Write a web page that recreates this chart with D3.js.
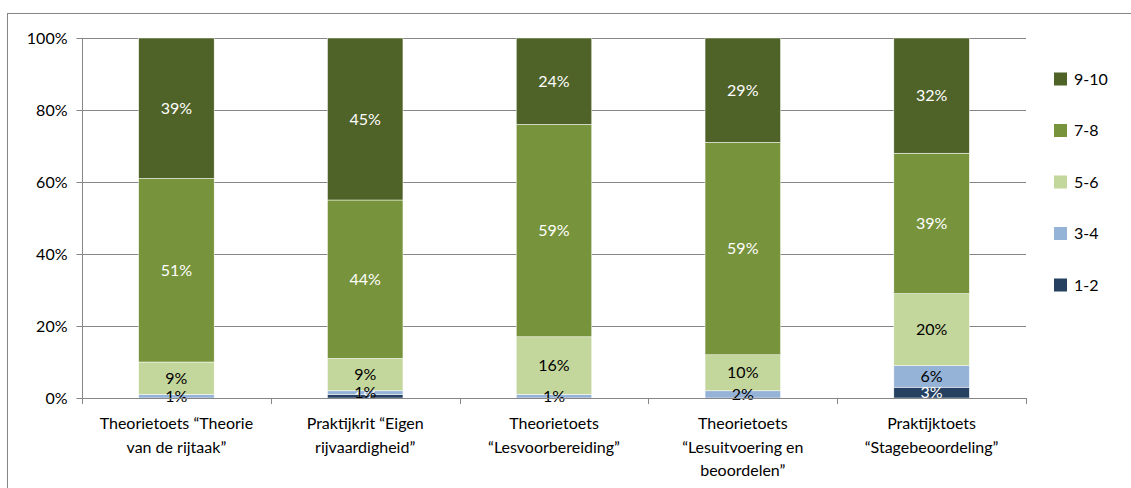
<!DOCTYPE html>
<html><head><meta charset="utf-8">
<script src="https://cdn.jsdelivr.net/npm/d3@7"></script>
<style>
html,body{margin:0;padding:0;background:#fff;overflow:hidden}
text{font-family:Lato,"Liberation Sans",sans-serif}
</style></head>
<body>
<svg id="chart" width="1131" height="488"></svg>
<script>
const categories = [
  ["Theorietoets \u201cTheorie", "van de rijtaak\u201d"],
  ["Praktijkrit \u201cEigen", "rijvaardigheid\u201d"],
  ["Theorietoets", "\u201cLesvoorbereiding\u201d"],
  ["Theorietoets", "\u201cLesuitvoering en", "beoordelen\u201d"],
  ["Praktijktoets", "\u201cStagebeoordeling\u201d"]
];
const seriesNames = ["1-2", "3-4", "5-6", "7-8", "9-10"];
const s12  = [0, 1, 0, 0, 3];
const s34  = [1, 1, 1, 2, 6];
const s56  = [9, 9, 16, 10, 20];
const s78  = [51, 44, 59, 59, 39];
const s910 = [39, 45, 24, 29, 32];
const yTicks = [0, 0.2, 0.4, 0.6, 0.8, 1.0];
const colors = ["#254061", "#95B3D7", "#C3D69B", "#77933C", "#4F6228"];
const labelColors = ["#fff", "#000", "#000", "#fff", "#fff"];

const seriesValues = [s12, s34, s56, s78, s910];
const rows = categories.map((c, i) => {
  const r = {cat: i};
  seriesNames.forEach((k, j) => r[k] = seriesValues[j][i] / 100);
  return r;
});

const svg = d3.select("#chart");
const L = 82, R = 1026, T = 38, B = 398;

// frame
svg.append("rect").attr("x", 7.5).attr("y", 13.5).attr("width", 1200).attr("height", 600)
  .attr("fill", "none").attr("stroke", "#868686").attr("stroke-width", 1);

const x = d3.scaleBand().domain(d3.range(categories.length)).range([L, R])
  .paddingInner(0.6).paddingOuter(0.3);
const y = d3.scaleLinear().domain([0, 1]).range([B, T]);

// gridlines
svg.append("g").selectAll("line").data(yTicks.filter(d => d > 0)).join("line")
  .attr("x1", L).attr("x2", R).attr("y1", d => Math.round(y(d)) + 0.5).attr("y2", d => Math.round(y(d)) + 0.5)
  .attr("stroke", "#868686").attr("stroke-width", 1);

const stack = d3.stack().keys(seriesNames)(rows);

const g = svg.append("g");
stack.forEach((layer, j) => {
  g.append("g").selectAll("rect").data(layer).join("rect")
    .attr("x", d => x(d.data.cat))
    .attr("width", x.bandwidth())
    .attr("y", d => y(d[1]))
    .attr("height", d => y(d[0]) - y(d[1]))
    .attr("fill", colors[j])
    .attr("stroke", "#fff").attr("stroke-width", 0.5);
});

// y axis
const yAxis = d3.axisLeft(y).tickValues(yTicks).tickFormat(d3.format(".0%")).tickSize(6).tickPadding(9);
const ya = svg.append("g").attr("transform", `translate(${L + 0.5},0)`).call(yAxis);
ya.select(".domain").attr("stroke", "#868686").attr("d", `M-0,${T}V${B}`);
ya.selectAll(".tick line").attr("stroke", "#868686");
ya.selectAll(".tick").attr("transform", d => `translate(0,${Math.round(y(d)) + 0.5})`);
ya.selectAll("text").attr("font-size", 16).attr("fill", "#000").attr("font-family", "Lato");

// x axis line and ticks
const step = x.step();
const bounds = d3.range(categories.length + 1).map(i => L + i * step);
svg.append("line").attr("x1", L).attr("x2", R).attr("y1", B + 0.5).attr("y2", B + 0.5)
  .attr("stroke", "#868686");
svg.append("g").selectAll("line").data(bounds).join("line")
  .attr("x1", d => Math.round(d) + 0.5).attr("x2", d => Math.round(d) + 0.5)
  .attr("y1", B).attr("y2", B + 6).attr("stroke", "#868686");

// segment labels
stack.forEach((layer, j) => {
  g.append("g").selectAll("text").data(layer.filter(d => d[1] - d[0] > 0)).join("text")
    .attr("x", d => x(d.data.cat) + x.bandwidth() / 2)
    .attr("y", d => (y(d[0]) + y(d[1])) / 2)
    .attr("dy", "0.35em")
    .attr("text-anchor", "middle")
    .attr("font-size", 16)
    .attr("fill", labelColors[j])
    .text(d => d3.format(".0%")(d[1] - d[0]));
});

// category labels
const cl = svg.append("g");
categories.forEach((lines, i) => {
  const t = cl.append("text").attr("text-anchor", "middle").attr("font-size", 16).attr("fill", "#000");
  lines.forEach((ln, k) => {
    t.append("tspan").attr("x", x(i) + x.bandwidth() / 2).attr("y", 429 + k * 23.5).text(ln);
  });
});

// legend
const leg = svg.append("g");
seriesNames.slice().reverse().forEach((k, i) => {
  const j = seriesNames.length - 1 - i;
  const cy = 79 + i * 51.5;
  leg.append("rect").attr("x", 1054).attr("y", cy - 6.5).attr("width", 13).attr("height", 13).attr("fill", colors[j]);
  leg.append("text").attr("x", 1074).attr("y", cy).attr("dy", "0.35em").attr("font-size", 16).attr("fill", "#000").text(k);
});
</script>
</body></html>
